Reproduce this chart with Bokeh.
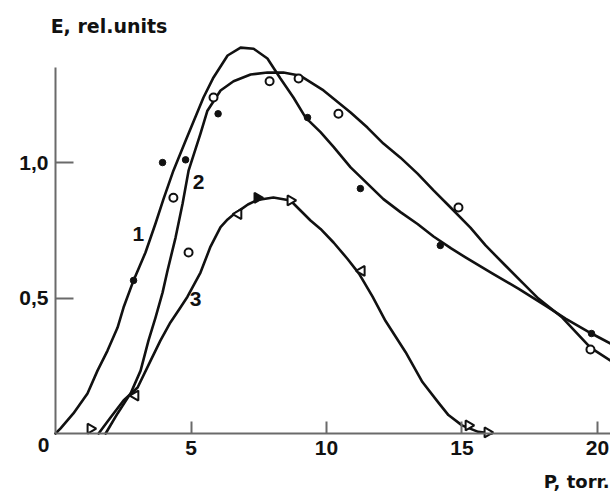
import math
from bokeh.plotting import figure
from bokeh.models import Range1d, FixedTicker, Label
from bokeh.embed import file_html
from bokeh.resources import INLINE

# ---- data ----
# curve 1 (filled dots)
c1_x = [0, 0.18, 0.66, 1.18, 1.55, 1.92, 2.29, 2.51, 2.88, 3.32, 3.69, 3.99, 4.35, 4.80, 5.46,
        5.83, 6.35, 6.83, 7.31, 7.82, 8.30, 8.78, 9.23, 9.78, 10.26, 10.89, 11.51, 12.10, 12.73,
        13.36, 13.95, 14.60, 15.13, 16.13, 17.08, 18.08, 18.82, 19.78, 20.48]
c1_y = [0, 0.018, 0.074, 0.148, 0.232, 0.306, 0.391, 0.465, 0.565, 0.668, 0.775, 0.867, 0.97, 1.08, 1.24,
        1.314, 1.395, 1.424, 1.42, 1.384, 1.31, 1.24, 1.166, 1.112, 1.058, 0.982, 0.922, 0.865, 0.817,
        0.773, 0.727, 0.683, 0.650, 0.590, 0.535, 0.472, 0.424, 0.369, 0.332]
m1_x = [2.88, 3.95, 4.80, 6.00, 9.30, 11.25, 14.20, 19.78]
m1_y = [0.565, 1.00, 1.01, 1.18, 1.166, 0.904, 0.694, 0.369]

# curve 2 (open circles)
c2_x = [1.85, 2.29, 2.77, 3.14, 3.43, 3.69, 3.95, 4.13, 4.43, 4.69, 4.91, 5.35, 5.60, 6.09, 6.57,
        7.20, 7.82, 8.41, 9.04, 9.89, 10.89, 11.51, 12.10, 12.73, 13.36, 13.95, 14.58, 15.31, 15.87,
        16.60, 17.23, 17.82, 18.70, 19.74, 20.48]
c2_y = [0, 0.074, 0.148, 0.232, 0.343, 0.428, 0.52, 0.60, 0.723, 0.849, 0.97, 1.107, 1.19, 1.266, 1.30,
        1.325, 1.332, 1.332, 1.32, 1.266, 1.185, 1.129, 1.07, 1.018, 0.959, 0.897, 0.834, 0.76, 0.694,
        0.62, 0.557, 0.498, 0.428, 0.317, 0.269]
m2_x = [4.35, 4.91, 5.83, 7.90, 8.97, 10.44, 14.87, 19.74]
m2_y = [0.87, 0.668, 1.24, 1.30, 1.31, 1.18, 0.834, 0.31]

# curve 3 (triangles)
c3_x = [1.59, 2.03, 2.51, 3.03, 3.51, 3.87, 4.24, 4.61, 4.87, 5.35, 5.72, 6.09, 6.35, 6.57, 6.83,
        7.10, 7.45, 8.04, 8.67, 9.04, 9.41, 9.78, 10.26, 10.77, 11.20, 11.70, 12.18, 12.92, 13.54,
        14.13, 14.50, 15.00, 15.60, 16.10]
c3_y = [0, 0.059, 0.122, 0.17, 0.269, 0.343, 0.41, 0.465, 0.505, 0.594, 0.690, 0.762, 0.79, 0.808, 0.826,
        0.845, 0.862, 0.871, 0.86, 0.823, 0.786, 0.755, 0.705, 0.645, 0.59, 0.505, 0.415, 0.30, 0.19,
        0.114, 0.068, 0.03, 0.006, 0]
m3r_x = [1.29, 8.67, 15.24, 15.94]
m3r_y = [0.018, 0.86, 0.03, 0.004]
m3f_x = [7.45]
m3f_y = [0.87]
m3l_x = [2.95, 6.75, 11.30]
m3l_y = [0.14, 0.81, 0.60]

x_ticks = [5, 10, 15, 20]
y_ticks = [0.5, 1.0]
y_tick_labels = {0.5: "0,5", 1.0: "1,0"}

INK = "#111111"
AXIS = "#6a6a6a"

# frame covers the whole page; axes are pinned at x=0 / y=0
p = figure(width=610, height=491, output_backend="svg", toolbar_location=None,
           x_range=Range1d(-2.03, 20.48), y_range=Range1d(-0.214, 1.598),
           min_border_left=0, min_border_right=0, min_border_top=0, min_border_bottom=0)
p.outline_line_color = None
p.xgrid.grid_line_color = None
p.ygrid.grid_line_color = None
p.background_fill_color = "white"
p.border_fill_color = "white"

for ax in (p.xaxis[0], p.yaxis[0]):
    ax.fixed_location = 0
    ax.axis_line_color = AXIS
    ax.axis_line_width = 2
    ax.major_tick_line_color = AXIS
    ax.major_tick_line_width = 2
    ax.major_tick_out = 0
    ax.minor_tick_in = 0
    ax.minor_tick_out = 0
    ax.major_label_text_font = "Liberation Sans"
    ax.major_label_text_font_style = "bold"
    ax.major_label_text_font_size = "21px"
    ax.major_label_text_color = INK

p.xaxis.ticker = FixedTicker(ticks=x_ticks)
p.xaxis.major_tick_in = 12
p.xaxis.major_label_standoff = 7
p.xaxis.bounds = (0, 20.48)

p.yaxis.ticker = FixedTicker(ticks=y_ticks)
p.yaxis.major_label_overrides = y_tick_labels
p.yaxis.major_tick_in = 18
p.yaxis.major_label_standoff = 7
p.yaxis.bounds = (0, 1.35)

for cx, cy in ((c1_x, c1_y), (c2_x, c2_y), (c3_x, c3_y)):
    p.line(cx, cy, line_color=INK, line_width=2.6, line_join="round", line_cap="round")

p.scatter(m1_x, m1_y, marker="circle", size=6.5, fill_color=INK, line_color=INK)
p.scatter(m2_x, m2_y, marker="circle", size=8, fill_color="white", line_color=INK, line_width=2)
p.scatter(m3r_x, m3r_y, marker="triangle", angle=-math.pi / 2, size=10,
          fill_color="white", line_color=INK, line_width=2)
p.scatter(m3f_x, m3f_y, marker="triangle", angle=-math.pi / 2, size=10,
          fill_color=INK, line_color=INK, line_width=2)
p.scatter(m3l_x, m3l_y, marker="triangle", angle=math.pi / 2, size=10,
          fill_color="white", line_color=INK, line_width=2)

def lab(x, y, t, size="19px", font="DejaVu Sans", align="left", base="middle"):
    p.add_layout(Label(x=x, y=y, text=t, text_font=font, text_font_style="bold",
                       text_font_size=size, text_color=INK, text_align=align,
                       text_baseline=base))

lab(-0.18, 1.504, "E, rel.units")
lab(20.45, -0.177, "P, torr.", size="18px", align="right")
lab(-0.44, -0.044, "0", size="21px", font="Liberation Sans", align="center")
lab(3.06, 0.738, "1", size="21px", font="Liberation Sans", align="center")
lab(5.28, 0.93, "2", size="21px", font="Liberation Sans", align="center")
lab(5.17, 0.498, "3", size="21px", font="Liberation Sans", align="center")

open("out.html", "w").write(file_html(p, INLINE))
